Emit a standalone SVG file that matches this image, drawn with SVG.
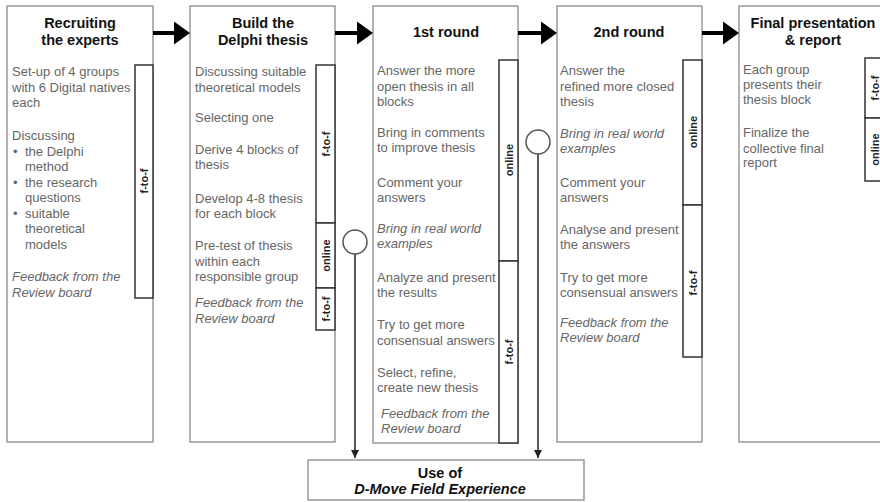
<svg xmlns="http://www.w3.org/2000/svg" width="880" height="502" viewBox="0 0 880 502">
<defs>
<style>
.box{fill:#fff;stroke:#999;stroke-width:1.5}
.bar{fill:#fff;stroke:#333;stroke-width:1.5}
.t{font-family:"Liberation Sans",Arial,sans-serif;font-size:14.5px;font-weight:bold;fill:#111;text-anchor:middle}
.b{font-family:"Liberation Sans",Arial,sans-serif;font-size:13px;fill:#666}
.i{font-style:italic}
.s{font-family:"Liberation Sans",Arial,sans-serif;font-size:11px;font-weight:bold;fill:#222;text-anchor:middle;dominant-baseline:central}
.big{stroke:#000;stroke-width:4;fill:none}
.vl{stroke:#222;stroke-width:1.5;fill:none}
.circ{fill:#fff;stroke:#555;stroke-width:1.5}
</style>
<marker id="ah" viewBox="0 0 10 10" refX="10" refY="5" markerWidth="8" markerHeight="8" markerUnits="userSpaceOnUse" orient="auto"><path d="M0,0 L10,5 L0,10 z" fill="#222"/></marker>
</defs>

<g id="step1">
<rect class="box" x="7" y="6" width="146" height="436"/>
<text class="t" x="80" y="28">Recruiting</text>
<text class="t" x="80" y="45">the experts</text>
<text class="b" x="12" y="76">Set-up of 4 groups</text>
<text class="b" x="12" y="91.6">with 6 Digital natives</text>
<text class="b" x="12" y="107">each</text>
<text class="b" x="12" y="140">Discussing</text>
<text class="b" x="13" y="155.6">•</text><text class="b" x="25" y="155.6">the Delphi</text>
<text class="b" x="25" y="171">method</text>
<text class="b" x="13" y="187">•</text><text class="b" x="25" y="187">the research</text>
<text class="b" x="25" y="202">questions</text>
<text class="b" x="13" y="218">•</text><text class="b" x="25" y="218">suitable</text>
<text class="b" x="25" y="233">theoretical</text>
<text class="b" x="25" y="249">models</text>
<text class="b i" x="12" y="281">Feedback from the</text>
<text class="b i" x="12" y="297">Review board</text>
<rect class="bar" x="135" y="65" width="18" height="233"/>
<text class="s" transform="rotate(-90 144 181)" x="144" y="181">f-to-f</text>
</g>

<g id="step2">
<rect class="box" x="190" y="6" width="145" height="436"/>
<text class="t" x="263" y="28">Build the</text>
<text class="t" x="263" y="45">Delphi thesis</text>
<text class="b" x="195" y="76">Discussing suitable</text>
<text class="b" x="195" y="91.5">theoretical models</text>
<text class="b" x="195" y="122">Selecting one</text>
<text class="b" x="195" y="153.5">Derive 4 blocks of</text>
<text class="b" x="195" y="169">thesis</text>
<text class="b" x="195" y="202.5">Develop 4-8 thesis</text>
<text class="b" x="195" y="218">for each block</text>
<text class="b" x="195" y="250">Pre-test of thesis</text>
<text class="b" x="195" y="265.5">within each</text>
<text class="b" x="195" y="281">responsible group</text>
<text class="b i" x="195" y="307">Feedback from the</text>
<text class="b i" x="195" y="322.5">Review board</text>
<rect class="bar" x="316" y="65" width="19" height="158"/>
<rect class="bar" x="316" y="223" width="19" height="65"/>
<rect class="bar" x="316" y="288" width="19" height="42"/>
<text class="s" transform="rotate(-90 325.5 144)" x="325.5" y="144">f-to-f</text>
<text class="s" transform="rotate(-90 325.5 255.5)" x="325.5" y="255.5">online</text>
<text class="s" transform="rotate(-90 325.5 309)" x="325.5" y="309">f-to-f</text>
</g>

<g id="step3">
<rect class="box" x="373" y="6" width="145" height="437"/>
<text class="t" x="446" y="37">1st round</text>
<text class="b" x="377" y="75">Answer the more</text>
<text class="b" x="377" y="90.7">open thesis in all</text>
<text class="b" x="377" y="106">blocks</text>
<text class="b" x="377" y="136.7">Bring in comments</text>
<text class="b" x="377" y="152.3">to improve thesis</text>
<text class="b" x="377" y="186.7">Comment your</text>
<text class="b" x="377" y="201.7">answers</text>
<text class="b i" x="377" y="233">Bring in real world</text>
<text class="b i" x="377" y="248">examples</text>
<text class="b" x="377" y="281.7">Analyze and present</text>
<text class="b" x="377" y="296.7">the results</text>
<text class="b" x="377" y="329">Try to get more</text>
<text class="b" x="377" y="344.5">consensual answers</text>
<text class="b" x="377" y="377">Select, refine,</text>
<text class="b" x="377" y="392">create new thesis</text>
<text class="b i" x="381" y="418">Feedback from the</text>
<text class="b i" x="381" y="433">Review board</text>
<rect class="bar" x="499" y="60" width="19" height="201"/>
<rect class="bar" x="499" y="261" width="19" height="182"/>
<text class="s" transform="rotate(-90 508.5 160)" x="508.5" y="160">online</text>
<text class="s" transform="rotate(-90 508.5 352)" x="508.5" y="352">f-to-f</text>
</g>

<g id="step4">
<rect class="box" x="557" y="6" width="145" height="436"/>
<text class="t" x="629" y="37">2nd round</text>
<text class="b" x="560" y="75">Answer the</text>
<text class="b" x="560" y="91">refined more closed</text>
<text class="b" x="560" y="106">thesis</text>
<text class="b i" x="560" y="138">Bring in real world</text>
<text class="b i" x="560" y="153">examples</text>
<text class="b" x="560" y="187">Comment your</text>
<text class="b" x="560" y="202">answers</text>
<text class="b" x="560" y="234">Analyse and present</text>
<text class="b" x="560" y="249">the answers</text>
<text class="b" x="560" y="282">Try to get more</text>
<text class="b" x="560" y="297">consensual answers</text>
<text class="b i" x="560" y="327">Feedback from the</text>
<text class="b i" x="560" y="342">Review board</text>
<rect class="bar" x="683" y="60" width="19" height="145"/>
<rect class="bar" x="683" y="205" width="19" height="152"/>
<text class="s" transform="rotate(-90 692.5 132)" x="692.5" y="132">online</text>
<text class="s" transform="rotate(-90 692.5 283)" x="692.5" y="283">f-to-f</text>
</g>

<g id="step5">
<rect class="box" x="739" y="6" width="160" height="436"/>
<text class="t" x="813" y="28">Final presentation</text>
<text class="t" x="813" y="45">&amp; report</text>
<text class="b" x="743" y="74">Each group</text>
<text class="b" x="743" y="89">presents their</text>
<text class="b" x="743" y="104">thesis block</text>
<text class="b" x="743" y="137">Finalize the</text>
<text class="b" x="743" y="152.5">collective final</text>
<text class="b" x="743" y="167">report</text>
<rect class="bar" x="865" y="58" width="19" height="60"/>
<rect class="bar" x="865" y="118" width="19" height="63"/>
<text class="s" transform="rotate(-90 874.5 88)" x="874.5" y="88">f-to-f</text>
<text class="s" transform="rotate(-90 874.5 149.5)" x="874.5" y="149.5">online</text>
</g>

<g id="field">
<rect class="box" x="308" y="460" width="276" height="40"/>
<text class="t" x="440" y="478">Use of</text>
<text class="t i" x="440" y="494">D-Move Field Experience</text>
</g>

<g id="connectors">
<path class="big" d="M153,33 H176"/><path d="M174,21.5 L190,33 L174,44.5 z" fill="#000"/>
<path class="big" d="M335,33 H359"/><path d="M357,21.5 L373,33 L357,44.5 z" fill="#000"/>
<path class="big" d="M518,33 H543"/><path d="M541,21.5 L557,33 L541,44.5 z" fill="#000"/>
<path class="big" d="M702,33 H725"/><path d="M723,21.5 L739,33 L723,44.5 z" fill="#000"/>
<path class="vl" d="M355,254 V458" marker-end="url(#ah)"/>
<circle class="circ" cx="355" cy="242" r="12"/>
<path class="vl" d="M538,154 V458" marker-end="url(#ah)"/>
<circle class="circ" cx="538" cy="142" r="12"/>
</g>
</svg>
